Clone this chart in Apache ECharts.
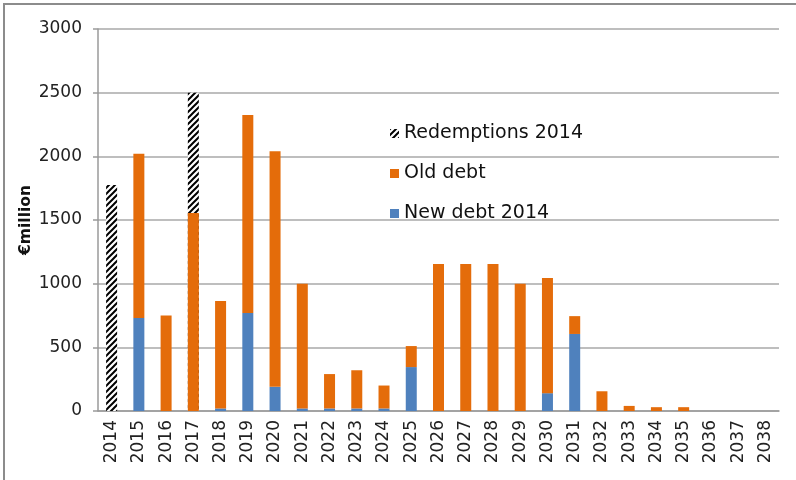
<!DOCTYPE html>
<html>
<head>
<meta charset="utf-8">
<script src="https://cdn.jsdelivr.net/npm/echarts@6/dist/echarts.min.js"></script>
<style>
  html, body { margin: 0; padding: 0; background: #fff; }
  #main { width: 796px; height: 480px; }
</style>
</head>
<body>
<div id="main"></div>
<script>
var years = ['2014','2015','2016','2017','2018','2019','2020','2021','2022','2023','2024','2025','2026',
             '2027','2028','2029','2030','2031','2032','2033','2034','2035','2036','2037','2038'];
var redemptions = [1775, 0, 0, 2500, 0, 0, 0, 0, 0, 0, 0, 0, 0,
                   0, 0, 0, 0, 0, 0, 0, 0, 0, 0, 0, 0];
var newDebt = [0, 730, 0, 0, 20, 770, 190, 20, 20, 20, 20, 345, 0,
               0, 0, 0, 140, 605, 0, 0, 0, 0, 0, 0, 0];
var oldDebt = [0, 1290, 750, 1555, 844, 1555, 1850, 980, 270, 300, 180, 165, 1155,
               1155, 1155, 1000, 905, 140, 155, 40, 30, 30, 0, 0, 0];
var yTicks = [0, 500, 1000, 1500, 2000, 2500, 3000];

// zero values draw no bar at all
function noZero(arr) {
  return arr.map(function (v) { return v === 0 ? null : v; });
}

// hatch pattern for the redemptions bars
var hatch = document.createElement('canvas');
hatch.width = 6; hatch.height = 6;
var hc = hatch.getContext('2d');
hc.fillStyle = '#fff';
hc.fillRect(0, 0, 6, 6);
hc.strokeStyle = '#000';
hc.lineWidth = 2;
hc.beginPath();
hc.moveTo(-1, 7); hc.lineTo(7, -1);
hc.moveTo(-4, 4); hc.lineTo(4, -4);
hc.moveTo(2, 10); hc.lineTo(10, 2);
hc.stroke();

var chart = echarts.init(document.getElementById('main'));
var font = 'DejaVu Sans';

chart.setOption({
  animation: false,
  textStyle: { fontFamily: font },
  graphic: [{
    type: 'rect',
    shape: { x: 4, y: 4, width: 900, height: 600 },
    style: { fill: 'none', stroke: '#8c8c8c', lineWidth: 2 }
  }],
  grid: { left: 98, right: 17, top: 29, bottom: 69 },
  legend: {
    orient: 'vertical',
    left: 385,
    top: 119,
    itemGap: 21,
    itemWidth: 9,
    itemHeight: 9,
    icon: 'rect',
    textStyle: { fontSize: 19, color: '#111', fontFamily: font },
    data: ['Redemptions 2014', 'Old debt', 'New debt 2014']
  },
  xAxis: {
    type: 'category',
    data: years,
    axisLine: { lineStyle: { color: '#9a9a9a', width: 1.5 } },
    axisTick: { show: false },
    axisLabel: { rotate: 90, fontSize: 17, color: '#222', margin: 9, interval: 0 }
  },
  yAxis: {
    type: 'value',
    min: yTicks[0],
    max: yTicks[yTicks.length - 1],
    interval: 500,
    name: '€million',
    nameLocation: 'middle',
    nameGap: 64,
    nameMoveOverlap: false,
    nameTextStyle: { fontSize: 15.5, fontWeight: 'bold', color: '#111' },
    axisLine: { show: true, lineStyle: { color: '#9a9a9a', width: 1.5 } },
    axisTick: { show: true, length: 5, lineStyle: { color: '#9a9a9a', width: 1.5 } },
    axisLabel: { fontSize: 17, color: '#222', margin: 16, formatter: function (v) { return String(v); } },
    splitLine: { lineStyle: { color: '#a8a8a8', width: 1.5 } }
  },
  series: [
    {
      name: 'Redemptions 2014',
      type: 'bar',
      barWidth: 11,
      barGap: '-100%',
      itemStyle: { color: { image: hatch, repeat: 'repeat' } },
      data: noZero(redemptions)
    },
    {
      name: 'New debt 2014',
      type: 'bar',
      stack: 'debt',
      barWidth: 11,
      itemStyle: { color: '#4F81BD' },
      data: noZero(newDebt)
    },
    {
      name: 'Old debt',
      type: 'bar',
      stack: 'debt',
      barWidth: 11,
      itemStyle: { color: '#E46C0A' },
      data: noZero(oldDebt)
    }
  ]
});
</script>
</body>
</html>
